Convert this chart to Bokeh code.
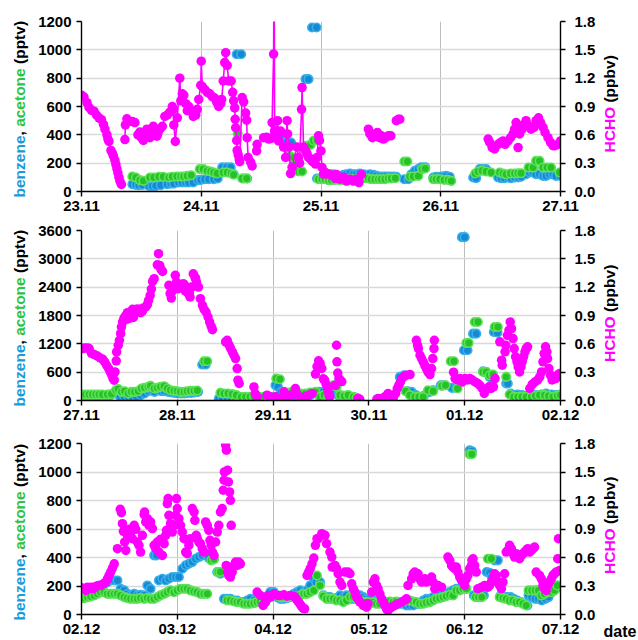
import math
import numpy as np
from bokeh.plotting import figure
from bokeh.layouts import column, row
from bokeh.models import Range1d, LinearAxis, FixedTicker, NumeralTickFormatter, Label
from bokeh.embed import file_html
from bokeh.resources import INLINE

GAP = float("nan")

# ---------------------------------------------------------------------------
# Time is given in hours since 23.11 00:00.
# benzene / acetone in pptv, HCHO in ppbv (right axis).
# ---------------------------------------------------------------------------
p1_days = ["23.11", "24.11", "25.11", "26.11", "27.11"]
p2_days = ["27.11", "28.11", "29.11", "30.11", "01.12", "02.12"]
p3_days = ["02.12", "03.12", "04.12", "05.12", "06.12", "07.12"]

p1_pptv_ticks = [0, 200, 400, 600, 800, 1000, 1200]
p2_pptv_ticks = [0, 600, 1200, 1800, 2400, 3000, 3600]
p3_pptv_ticks = [0, 200, 400, 600, 800, 1000, 1200]
hcho_ticks = [0.0, 0.3, 0.6, 0.9, 1.2, 1.5, 1.8]

# ---------------- panel 1: 23.11 - 27.11 ----------------
p1_hcho = [
    (0.0, 1.02), (0.5, 1.00), (1.1, 0.94), (1.5, 0.89), (2.0, 0.86), (2.5, 0.85),
    (3.0, 0.81), (3.5, 0.78), (4.0, 0.76), (4.4, 0.71), (4.7, 0.66), (5.1, 0.60),
    (5.3, 0.555), (5.5, 0.53), (5.9, 0.435), (6.2, 0.405), (6.4, 0.375), (6.7, 0.33),
    (6.9, 0.285), (7.1, 0.24), (7.3, 0.195), (7.5, 0.15), (7.7, 0.11), (8.0, 0.075),
    (8.3, GAP),
    (8.7, 0.55), (8.8, 0.705), (9.1, 0.77), (10.2, 0.74), (10.7, 0.73), (11.0, GAP),
    (11.3, 0.60), (11.7, 0.63), (12.0, 0.57), (12.4, 0.54), (12.7, 0.60), (13.1, 0.66),
    (13.3, 0.615), (13.7, 0.57), (14.0, 0.63), (14.4, 0.69), (14.7, 0.63), (15.1, 0.585),
    (15.3, 0.615), (15.7, 0.66), (16.2, 0.69), (16.7, 0.795), (17.2, 0.81), (17.7, 0.84),
    (18.2, 0.90), (18.4, 0.87), (18.5, 0.705), (18.8, 0.53), (19.2, 0.78), (19.7, 1.20),
    (19.9, 0.96), (20.2, 1.035), (20.5, 1.02), (20.9, 0.93), (21.2, 0.855), (21.5, 0.90),
    (21.9, 0.855), (22.4, 0.795), (22.9, 0.81), (23.2, 0.87), (23.5, 0.975), (23.9, 1.125),
    (24.0, 1.38), (24.2, 1.11), (24.7, 1.08), (25.2, 1.05), (25.7, 1.035), (26.2, 1.005),
    (26.7, 0.99), (27.1, 0.945), (27.5, 0.90), (27.9, 0.93), (28.1, 0.975), (28.4, 1.17),
    (28.7, 1.365), (28.9, 1.47), (29.2, 1.335), (29.5, 1.17), (30.0, 1.17), (30.3, 1.05),
    (30.5, 0.96), (30.7, 0.885), (30.8, 0.765), (30.9, 0.675), (31.1, 0.54), (31.2, 0.435),
    (31.4, 0.39), (31.6, 0.345), (31.7, 0.315), (32.2, 0.995), (32.5, 0.95), (32.9, 0.83),
    (33.1, 0.755), (33.2, 0.57), (33.4, 0.36), (33.9, 0.31), (34.2, 0.27), (34.6, GAP),
    (35.1, 0.43), (35.2, 0.50), (35.8, GAP),
    (36.5, 0.57), (37.1, 0.575), (37.5, 0.555), (37.9, 0.56), (38.2, 0.73), (38.5, 1.455),
    (38.6, 2.6), (38.7, 0.64), (38.9, 0.57), (39.3, 0.75), (39.5, 0.535), (39.9, 0.64),
    (40.5, 0.47), (40.9, 0.36), (41.2, 0.75), (41.3, 0.61), (41.6, 0.47), (41.9, 0.19),
    (42.2, 0.255), (43.2, 0.47), (43.5, 0.36), (43.7, 0.30), (44.1, 0.87), (44.2, 1.10),
    (44.5, 0.47), (44.9, 0.43), (45.2, 0.40), (45.5, 0.36), (45.9, 0.345), (46.2, 0.325),
    (46.5, 0.31), (46.9, 0.29), (47.2, 0.36), (47.5, 0.59), (47.7, 0.54), (48.0, 0.43),
    (48.2, 0.255), (48.5, 0.185), (48.9, 0.20), (49.3, 0.185), (49.8, 0.18), (50.4, 0.16),
    (50.9, 0.14), (51.1, 0.18), (51.8, 0.13), (52.5, 0.15), (53.1, 0.11), (53.8, 0.13),
    (54.5, 0.11), (55.1, 0.13), (55.6, 0.095), (56.1, 0.18), (56.8, GAP),
    (57.5, 0.66), (57.8, 0.61), (58.3, 0.57), (58.8, 0.61), (59.3, 0.625), (59.7, 0.57),
    (60.1, 0.59), (60.5, 0.555), (60.9, 0.57), (61.5, 0.59), (62.0, 0.59), (62.5, GAP),
    (63.1, 0.75), (63.5, 0.765), (63.8, 0.765), (70.0, GAP),
    (81.5, 0.555), (81.8, 0.52), (82.3, 0.465), (82.8, 0.45), (83.5, 0.50), (84.0, 0.52),
    (84.5, 0.535), (84.9, 0.50), (85.5, 0.535), (86.0, 0.57), (86.5, 0.61), (86.8, 0.66),
    (87.1, 0.73), (87.5, 0.465), (87.8, 0.61), (88.3, 0.66), (88.7, 0.71), (89.1, 0.75),
    (89.6, 0.695), (90.1, 0.66), (90.7, 0.68), (91.1, 0.75), (91.6, 0.78), (92.0, 0.73),
    (92.5, 0.68), (92.9, 0.625), (93.5, 0.57), (94.0, 0.52), (94.5, 0.485), (94.9, 0.485),
    (95.5, 0.50), (96.0, 0.535),
]
# the HCHO trace is joined by lines during the first two days
p1_hcho_line_end = 48.5

p1_benzene = [
    (10.2, 52), (10.9, 47), (11.5, 45), (12.2, 47), (13.5, 40), (14.2, 38), (14.9, 40),
    (15.9, 45), (17.2, 52), (17.9, 56), (18.5, 56), (19.5, 64), (20.2, 64), (20.9, 64),
    (21.5, 64), (22.4, 64), (23.3, 80), (23.9, 82), (24.7, 87), (25.5, 87), (26.5, 87),
    (27.3, 92), (28.2, 170), (29.1, 170), (29.9, 170), (30.5, 122), (31.1, 969), (32.0, 969),
    (32.5, 92), (33.2, 92), (39.5, 409), (40.4, 405), (41.1, 346), (42.0, 346), (42.7, 205),
    (43.3, 205), (44.9, 793), (45.5, 793), (46.2, 1158), (47.1, 1158), (47.2, 92), (47.9, 92),
    (48.5, 104), (49.1, 110), (49.8, 122), (50.5, 122), (51.1, 110), (51.8, 106), (52.5, 118),
    (53.1, 122), (53.8, 127), (54.5, 122), (55.1, 122), (55.8, 127), (56.5, 122), (57.1, 118),
    (57.8, 122), (58.5, 118), (59.1, 110), (59.8, 106), (60.5, 106), (61.1, 106), (61.8, 106),
    (62.5, 106), (63.1, 104), (64.7, 87), (65.5, 87), (66.1, 122), (66.8, 146), (67.5, 158),
    (68.1, 170), (68.9, 170), (70.5, 99), (71.1, 104), (71.8, 104), (72.5, 108), (73.1, 110),
    (73.8, 104), (78.5, 99), (79.1, 94), (79.8, 158), (80.5, 158), (81.1, 158), (83.5, 99),
    (84.1, 94), (84.8, 94), (85.5, 99), (86.1, 94), (86.8, 99), (87.5, 99), (88.1, 104),
    (89.1, 122), (89.8, 134), (90.5, 134), (91.1, 122), (91.8, 122), (92.5, 110), (93.1, 110),
    (93.8, 122), (94.5, 122), (95.1, 110), (96.0, 110),
]

p1_acetone = [
    (10.2, 106), (10.9, 99), (11.7, 80), (12.4, 75), (13.7, 99), (14.5, 99), (15.5, 104),
    (16.4, 104), (17.5, 99), (18.2, 104), (19.1, 106), (19.9, 106), (20.5, 106), (21.2, 110),
    (22.0, 115), (23.7, 158), (24.4, 158), (25.2, 146), (25.9, 141), (26.5, 134), (27.2, 127),
    (28.4, 134), (29.2, 134), (30.0, 127), (30.5, 118), (31.3, 409), (32.2, 92), (33.1, 92),
    (41.7, 252), (42.5, 240), (43.1, 193), (43.5, 141), (44.2, 141), (45.1, 322), (45.9, 329),
    (46.5, 358), (47.2, 362), (47.5, 87), (48.2, 87), (48.8, 87), (49.5, 80), (50.1, 80),
    (50.8, 82), (51.5, 82), (52.1, 82), (52.8, 82), (53.5, 87), (54.1, 87), (54.8, 87),
    (55.5, 92), (56.1, 94), (56.8, 94), (57.5, 92), (58.1, 87), (58.8, 87), (59.5, 87),
    (60.1, 87), (60.8, 87), (61.5, 92), (62.1, 92), (62.9, 94), (64.7, 212), (65.3, 212),
    (65.8, 104), (66.5, 106), (67.5, 110), (68.3, 158), (68.9, 162), (70.5, 87), (71.1, 87),
    (71.8, 87), (72.7, 82), (73.5, 82), (74.1, 75), (78.9, 127), (79.5, 141), (80.3, 146),
    (81.1, 141), (82.1, 134), (83.8, 134), (84.5, 127), (85.1, 122), (86.0, 127), (86.8, 127),
    (87.5, 129), (88.1, 129), (89.6, 169), (90.5, 169), (91.1, 216), (91.8, 216), (92.5, 169),
    (93.3, 169), (94.1, 169), (95.8, 134),
]

# ---------------- panel 2: 27.11 - 02.12 ----------------
p2_hcho = [
    (96.0, 0.55), (96.3, 0.55), (96.8, 0.557), (97.5, 0.557), (97.9, 0.55), (98.5, 0.50),
    (99.2, 0.486), (100.0, 0.47), (100.7, 0.45), (101.3, 0.437), (101.8, 0.41), (102.3, 0.373),
    (102.8, 0.338), (103.2, 0.303), (103.6, 0.268), (103.9, 0.233), (104.2, 0.215), (104.4, 0.303),
    (104.7, 0.42), (104.8, 0.514), (105.2, 0.585), (105.5, 0.638), (105.8, 0.708), (106.0, 0.778),
    (106.3, 0.83), (106.5, 0.85), (106.7, 0.874), (107.1, 0.90), (107.3, 0.86), (107.5, 0.93),
    (107.9, 0.90), (108.0, 0.87), (108.3, 0.937), (108.6, 0.92), (108.8, 0.965), (109.0, 0.88),
    (109.3, 0.937), (109.8, 0.955), (110.0, 0.97), (110.4, 0.937), (110.8, 0.93), (111.0, 0.965),
    (111.3, 0.95), (111.5, 0.98), (112.1, 0.99), (112.5, 1.015), (112.8, 1.06), (113.2, 1.113),
    (113.5, 1.18), (113.8, 1.26), (114.2, 1.29), (115.0, 1.437), (115.3, 1.554), (115.6, 1.43),
    (115.9, 1.388), (116.3, 1.367), (117.9, 1.219), (118.2, 1.131), (118.5, 1.085), (118.8, 1.16),
    (119.0, 1.201), (119.5, 1.325), (119.8, 1.254), (120.0, 1.23), (120.3, 1.184), (120.7, 1.219),
    (121.1, 1.201), (121.5, 1.237), (121.9, 1.219), (122.0, 1.16), (122.3, 1.177), (122.8, 1.131),
    (123.0, 1.14), (123.2, 1.096), (123.6, 1.201), (124.0, 1.342), (124.4, 1.307), (124.6, 1.29),
    (124.8, 1.254), (125.3, 1.201), (125.8, 1.078), (126.3, 1.008), (126.7, 0.965), (127.2, 0.937),
    (127.7, 0.884), (128.1, 0.831), (128.5, 0.786), (128.8, 0.75),
    (132.1, 0.62), (132.5, 0.638), (132.9, 0.592), (133.3, 0.557), (133.8, 0.514), (134.2, 0.479),
    (134.6, 0.444), (135.0, 0.338), (135.2, 0.215), (135.5, 0.18), (139.2, 0.144), (139.5, 0.074),
    (140.0, 0.039), (142.5, 0.056), (143.3, 0.039), (144.6, 0.039), (145.8, 0.021), (146.7, 0.092),
    (147.1, 0.028), (148.3, 0.056), (149.6, 0.127), (150.2, 0.056), (151.3, 0.028), (152.1, 0.039),
    (152.9, 0.056), (153.8, 0.074), (154.6, 0.28), (155.0, 0.36), (155.4, 0.42), (155.8, 0.39),
    (156.2, 0.34), (156.6, 0.23), (156.9, 0.215), (157.3, 0.17), (157.7, 0.11), (158.0, 0.06),
    (158.2, 0.04), (159.5, 0.16), (159.9, 0.585), (160.0, 0.41), (160.2, 0.29), (160.5, 0.233),
    (160.8, 0.215), (161.2, 0.20), (165.3, 0.021), (165.7, 0.014), (170.0, 0.014), (170.3, 0.021),
    (171.3, 0.021), (172.0, 0.039), (172.8, 0.074), (173.4, 0.039), (174.1, 0.028), (174.7, 0.074),
    (175.1, 0.127), (175.5, 0.162), (175.9, 0.197), (176.3, 0.233), (176.8, 0.254), (177.4, 0.268),
    (178.3, 0.275), (179.9, 0.638), (180.2, 0.585), (180.4, 0.55), (180.8, 0.479), (181.2, 0.444),
    (181.6, 0.409), (182.0, 0.373), (182.4, 0.338), (182.8, 0.303), (183.3, 0.275), (183.7, 0.338),
    (184.0, 0.444), (184.3, 0.55), (184.4, 0.638),
    (189.2, 0.30), (189.6, 0.232), (190.3, 0.217), (190.8, 0.232), (191.4, 0.197), (192.1, 0.232),
    (192.75, 0.217), (193.3, 0.232), (193.9, 0.217), (194.6, 0.197), (195.3, 0.18), (195.8, 0.16),
    (196.4, 0.127), (196.9, 0.074), (197.5, 0.12), (198.1, 0.145), (198.6, 0.127), (199.2, 0.145),
    (199.6, 0.232), (200.8, 0.621), (201.25, 0.427), (201.4, 0.374), (202.1, 0.515), (202.3, 0.585),
    (202.7, 0.69), (203.1, 0.744), (203.4, 0.832), (203.75, 0.762), (204.1, 0.656), (204.4, 0.55),
    (204.75, 0.462), (205.1, 0.409), (205.4, 0.356), (205.75, 0.303), (206.1, 0.356), (206.4, 0.409),
    (206.75, 0.462), (207.1, 0.515), (207.4, 0.55), (207.75, 0.568), (208.3, 0.127), (208.9, 0.17),
    (209.6, 0.197), (210.25, 0.217), (210.8, 0.25), (211.25, 0.303), (211.6, 0.409), (211.9, 0.497),
    (212.25, 0.568), (212.6, 0.515), (212.75, 0.444), (213.1, 0.338), (213.5, 0.268), (213.9, 0.217),
    (214.4, 0.25), (214.8, 0.232), (215.25, 0.268), (215.75, 0.285), (216.0, 0.268),
]

p2_benzene = [
    (96.25, 113), (97.1, 113), (97.9, 113), (98.75, 113), (99.6, 113), (100.4, 113),
    (101.25, 113), (102.3, 113), (103.3, 113), (104.6, 148), (105.7, 77), (106.7, 77),
    (107.7, 77), (108.75, 63), (109.8, 77), (110.8, 113), (111.8, 148), (112.7, 197),
    (113.5, 218), (114.3, 183), (115.2, 218), (116.0, 197), (116.8, 197), (117.7, 183),
    (118.5, 169), (119.3, 162), (120.2, 148), (121.0, 148), (121.8, 148), (122.7, 162),
    (123.5, 162), (124.3, 169), (125.2, 183), (126.25, 761), (127.1, 761),
    (130.4, 42), (131.25, 28), (132.5, 42), (133.5, 42), (134.6, 28), (135.8, 28),
    (137.5, 42), (139.2, 42), (140.8, 42), (142.5, 56), (143.75, 56), (144.6, 324),
    (145.2, 289), (146.0, 183), (147.1, 56), (148.3, 42), (149.6, 42), (150.8, 42),
    (152.1, 56), (153.3, 113), (154.6, 148), (155.4, 183), (156.6, 183), (157.4, 113),
    (158.7, 218), (159.5, 324), (160.3, 113), (161.3, 99), (162.4, 99), (163.7, 77),
    (164.7, 56), (175.75, 500), (176.8, 535), (177.7, 197), (178.7, 183), (179.7, 113),
    (180.75, 77), (181.8, 99), (183.25, 183), (184.1, 218), (186.0, 324), (186.8, 324),
    (188.8, 268), (189.9, 268), (191.3, 3459), (192.0, 3459), (191.8, 1064), (192.7, 1064),
    (194.1, 1416), (194.9, 1416), (196.6, 620), (197.4, 592), (198.25, 500), (198.8, 465),
    (199.3, 1451), (200.2, 1437), (202.4, 359), (202.8, 359), (203.5, 148), (204.5, 113),
    (205.3, 127), (206.3, 113), (207.4, 99), (208.7, 99), (209.9, 113), (211.2, 127),
    (212.4, 148), (213.7, 127), (214.9, 113), (216.0, 127),
]

p2_acetone = [
    (96.25, 127), (97.1, 127), (97.9, 127), (98.75, 127), (99.6, 127), (100.4, 127),
    (101.25, 127), (102.5, 127), (103.5, 134), (104.6, 218), (105.2, 240), (106.0, 183),
    (106.8, 197), (107.7, 148), (108.5, 183), (109.3, 183), (110.2, 197), (111.0, 254),
    (111.8, 268), (112.7, 289), (113.3, 310), (114.2, 254), (115.0, 268), (115.8, 289),
    (116.7, 303), (117.5, 254), (118.3, 218), (119.2, 204), (120.0, 197), (120.8, 183),
    (121.7, 183), (122.5, 197), (123.3, 204), (124.2, 204), (125.0, 211), (126.7, 831),
    (127.5, 831),
    (130.8, 162), (131.7, 148), (132.7, 148), (133.75, 134), (134.8, 113), (136.0, 77),
    (137.1, 77), (138.2, 77), (139.2, 77), (140.4, 77), (141.7, 77), (142.9, 77), (144.0, 77),
    (144.8, 465), (145.7, 451), (146.7, 183), (147.7, 169), (148.75, 183), (149.8, 169),
    (150.8, 148), (152.1, 148), (153.3, 169), (154.6, 183), (155.75, 77), (156.8, 113),
    (157.8, 77), (159.1, 324), (159.9, 289), (160.75, 113), (161.8, 99), (162.8, 113),
    (164.1, 77), (164.9, 56), (177.2, 197), (178.25, 113), (179.5, 77), (180.5, 77),
    (181.6, 77), (182.8, 218), (184.1, 197), (186.3, 310), (187.2, 324), (188.5, 831),
    (189.3, 831), (190.2, 254), (192.4, 1219), (193.0, 1219), (194.5, 1663), (195.3, 1663),
    (196.6, 606), (197.4, 606), (198.25, 535), (199.1, 550), (199.5, 1557), (200.3, 1557),
    (202.4, 500), (203.25, 127), (204.3, 77), (205.3, 77), (206.3, 77), (207.4, 77),
    (208.7, 77), (209.7, 99), (210.75, 113), (212.0, 113), (213.0, 99), (214.1, 77),
    (215.2, 99), (216.0, 113),
]

# ---------------- panel 3: 02.12 - 07.12 ----------------
p3_hcho = [
    (216.0, 0.281), (216.5, 0.271), (217.1, 0.253), (217.5, 0.288), (218.0, 0.271), (218.5, 0.288),
    (219.0, 0.271), (219.6, 0.295), (220.2, 0.306), (220.8, 0.306), (221.5, 0.323), (222.1, 0.341),
    (222.5, 0.376), (222.9, 0.411), (223.3, 0.447), (223.75, 0.489), (224.2, 0.534),
    (225.0, 0.693), (225.7, 1.108), (226.0, 1.072), (226.25, 0.956), (226.5, 0.876), (226.8, 0.763),
    (227.1, 0.675), (227.5, 0.833), (227.9, 0.897), (228.3, 0.861), (228.75, 0.798), (229.2, 0.939),
    (229.6, 0.897), (230.0, 0.763), (230.4, 0.728), (230.8, 0.657), (231.25, 0.833), (231.7, 1.051),
    (231.8, 1.079), (232.1, 0.974), (232.5, 1.009), (232.9, 0.939), (233.3, 0.974), (233.75, 0.904),
    (234.2, 0.728), (234.6, 0.693), (235.0, 0.763), (235.4, 0.657), (235.8, 0.791), (236.25, 0.622),
    (236.7, 0.745), (237.1, 0.833), (237.3, 0.886), (237.5, 1.167), (237.7, 1.22), (237.9, 1.044),
    (238.3, 0.956), (238.75, 0.868), (239.2, 0.939), (239.6, 1.044), (239.8, 1.22), (240.0, 1.115),
    (240.4, 1.009), (240.8, 0.939), (241.25, 0.868), (241.7, 0.798), (242.1, 0.657), (242.5, 0.64),
    (242.9, 0.728), (243.3, 0.798), (243.75, 1.115), (244.2, 1.079), (244.4, 0.991), (244.75, 0.833),
    (245.0, 0.798), (245.4, 0.763), (245.8, 0.745), (246.25, 0.693), (246.7, 0.657), (247.1, 0.974),
    (247.5, 0.939), (247.9, 0.886), (248.2, 0.781), (248.5, 0.728), (248.8, 0.657), (249.2, 0.622),
    (249.6, 0.763), (250.0, 0.868), (250.4, 0.939), (250.8, 1.079), (251.25, 1.115), (251.5, 1.308),
    (251.7, 1.413), (251.8, 1.501), (252.1, 1.783), (252.3, 1.73), (252.6, 1.519), (252.8, 1.396),
    (253.1, 1.29), (253.3, 1.202), (253.5, 0.939), (252.25, 0.517), (252.6, 0.447), (252.9, 0.411),
    (253.3, 0.394), (253.75, 0.447), (254.2, 0.517), (254.6, 0.552), (255.0, 0.517), (255.4, 0.552),
    (255.8, 0.534),
    (260.0, 0.236), (260.8, 0.2), (261.5, 0.095), (262.1, 0.13), (262.7, 0.2), (263.3, 0.183),
    (264.2, 0.218), (265.0, 0.2), (265.8, 0.2), (266.7, 0.207), (267.5, 0.193), (268.3, 0.2),
    (269.2, 0.193), (269.8, 0.165), (270.25, 0.137), (270.7, 0.113), (271.1, 0.088), (271.5, 0.067),
    (271.9, 0.06), (272.5, 0.411), (272.9, 0.447), (273.3, 0.482), (273.75, 0.534), (274.2, 0.594),
    (274.6, 0.728), (275.0, 0.798), (275.3, 0.798), (276.2, 0.851), (277.0, 0.833), (277.4, 0.745),
    (278.25, 0.657), (278.7, 0.605), (278.8, 0.499), (279.5, 0.517), (279.9, 0.482), (280.3, 0.429),
    (280.75, 0.341), (281.2, 0.306), (282.0, 0.447), (282.8, 0.447), (283.25, 0.429), (283.7, 0.323),
    (284.1, 0.271), (284.5, 0.236), (284.9, 0.183), (285.3, 0.165), (285.75, 0.13), (286.6, 0.095),
    (287.4, 0.077), (287.8, 0.113), (288.7, 0.236), (289.1, 0.341), (289.5, 0.376), (289.9, 0.306),
    (290.3, 0.271), (290.75, 0.218), (291.2, 0.165), (291.6, 0.13), (292.0, 0.095), (292.4, 0.06),
    (292.8, 0.042), (293.25, 0.067), (293.7, 0.077), (294.5, 0.095), (295.3, 0.113), (296.2, 0.13),
    (297.0, 0.148), (297.4, 0.165), (297.8, 0.306), (298.7, 0.376), (299.1, 0.429), (299.5, 0.447),
    (300.3, 0.429), (300.75, 0.376), (301.2, 0.341), (302.0, 0.376), (302.4, 0.341), (302.8, 0.359),
    (303.7, 0.394), (304.1, 0.341), (304.5, 0.271), (305.3, 0.306), (306.2, 0.288),
    (307.8, 0.605), (308.25, 0.57), (308.7, 0.517), (309.1, 0.499), (309.5, 0.482), (309.9, 0.499),
    (310.3, 0.447), (310.75, 0.394), (311.2, 0.359), (311.6, 0.341), (312.0, 0.306), (312.4, 0.376),
    (312.8, 0.411), (313.25, 0.482), (313.7, 0.517), (313.8, 0.57), (314.1, 0.587), (314.5, 0.517),
    (314.9, 0.447), (315.3, 0.271), (316.2, 0.288), (317.0, 0.306), (317.8, 0.288), (318.25, 0.306),
    (318.7, 0.341), (319.1, 0.376), (319.5, 0.429), (319.9, 0.411), (320.3, 0.341), (320.75, 0.306),
    (321.2, 0.271), (321.6, 0.341), (322.0, 0.429), (322.4, 0.657), (322.8, 0.675), (323.25, 0.728),
    (323.7, 0.693), (324.1, 0.64), (324.5, 0.605), (324.9, 0.64), (325.3, 0.605), (325.75, 0.587),
    (326.2, 0.622), (326.6, 0.64), (327.0, 0.657), (327.4, 0.675), (327.8, 0.693), (328.25, 0.657),
    (328.7, 0.675), (329.1, 0.693), (329.5, 0.71), (329.9, 0.447), (330.75, 0.411), (331.2, 0.376),
    (331.6, 0.306), (332.0, 0.271), (332.4, 0.253), (332.8, 0.306), (333.25, 0.341), (333.7, 0.376),
    (334.1, 0.411), (334.5, 0.429), (334.9, 0.447), (335.3, 0.587), (335.5, 0.798), (335.75, 0.464),
]

p3_benzene = [
    (216.0, 157), (216.7, 145), (217.5, 157), (218.3, 169), (219.2, 180), (220.0, 192),
    (220.8, 204), (221.7, 216), (222.5, 227), (223.3, 239), (224.2, 239), (225.0, 239),
    (225.8, 180), (226.7, 169), (227.5, 145), (228.3, 134), (229.2, 145), (230.0, 134),
    (230.8, 138), (231.7, 134), (232.5, 204), (233.3, 180), (234.2, 415), (234.8, 415),
    (235.4, 239), (236.25, 251), (237.1, 239), (237.9, 251), (238.75, 263), (239.6, 263),
    (240.4, 263), (241.25, 321), (242.1, 345), (242.9, 356), (243.75, 368), (244.6, 391),
    (245.4, 403), (246.25, 415), (247.1, 427), (247.9, 396), (248.75, 387), (250.0, 298),
    (250.8, 286), (251.7, 110), (252.5, 110), (253.3, 110), (254.2, 98), (255.0, 98),
    (255.8, 87), (256.7, 87), (257.5, 98), (258.3, 110), (259.2, 98), (260.0, 87),
    (260.8, 87), (261.7, 110), (262.5, 122), (263.3, 157), (264.2, 157), (265.0, 122),
    (265.8, 110), (266.7, 110), (267.5, 115), (268.3, 122), (269.2, 145), (270.0, 157),
    (270.8, 169), (271.7, 157), (272.5, 169), (273.3, 204), (274.2, 251), (274.8, 227),
    (275.75, 227), (276.6, 134), (277.4, 122), (278.25, 122), (279.1, 110), (279.9, 115),
    (280.75, 134), (281.6, 122), (282.4, 134), (283.25, 110), (284.1, 110), (284.9, 122),
    (285.75, 134), (286.6, 122), (287.4, 110), (288.25, 110), (289.1, 110), (289.9, 98),
    (290.75, 98), (291.6, 87), (292.4, 87), (293.25, 75), (294.1, 75), (294.9, 75),
    (295.75, 75), (296.6, 75), (297.4, 63), (298.25, 63), (299.1, 63), (299.9, 75),
    (300.75, 75), (301.6, 98), (302.4, 110), (303.25, 110), (304.1, 122), (304.9, 122),
    (305.75, 134), (306.6, 134), (307.4, 145), (308.25, 157), (309.1, 169), (309.9, 180),
    (310.75, 180), (311.6, 180), (312.4, 180), (313.25, 1153), (313.8, 1146), (314.3, 134),
    (315.2, 122), (316.0, 122), (316.8, 134), (317.5, 298), (318.25, 293), (318.8, 263),
    (319.5, 380), (320.3, 380), (321.0, 134), (321.8, 122), (322.7, 122), (323.5, 122),
    (324.3, 110), (325.2, 98), (326.0, 87), (326.8, 75), (327.7, 63), (328.0, 134),
    (328.8, 122), (329.7, 110), (330.5, 110), (331.3, 98), (332.2, 110), (333.0, 122),
    (333.8, 157), (334.5, 180), (335.2, 204), (335.75, 192),
]

p3_acetone = [
    (216.0, 122), (216.7, 115), (217.5, 122), (218.3, 127), (219.2, 134), (220.0, 145),
    (220.8, 157), (221.7, 157), (222.5, 145), (223.3, 145), (224.2, 145), (225.0, 145),
    (225.8, 134), (226.7, 122), (227.5, 115), (228.3, 110), (229.2, 110), (230.0, 110),
    (230.8, 115), (231.7, 110), (232.5, 115), (233.3, 110), (234.2, 110), (235.0, 122),
    (235.8, 134), (236.7, 145), (237.5, 157), (238.3, 169), (239.2, 157), (240.0, 169),
    (240.8, 180), (241.7, 180), (242.5, 180), (243.3, 169), (244.2, 162), (245.0, 157),
    (245.8, 145), (246.7, 145), (247.5, 145), (248.5, 380), (249.2, 387), (250.2, 298),
    (250.8, 298), (252.5, 98), (253.3, 98), (254.2, 91), (255.0, 87), (255.8, 87),
    (256.7, 75), (257.5, 75), (258.3, 75), (259.2, 80), (260.0, 87), (260.8, 91),
    (261.7, 98), (262.5, 110), (263.3, 122), (264.2, 134), (265.0, 134), (265.8, 122),
    (266.7, 122), (267.5, 122), (268.3, 127), (269.2, 127), (270.0, 122), (270.8, 134),
    (271.7, 145), (272.5, 145), (273.3, 157), (274.2, 169), (275.0, 274), (275.75, 204),
    (276.6, 129), (277.4, 110), (278.25, 110), (279.1, 110), (279.9, 98), (280.75, 98),
    (281.6, 87), (282.4, 98), (283.25, 122), (284.1, 122), (284.9, 110), (285.75, 98),
    (286.6, 87), (287.4, 87), (288.25, 75), (289.1, 87), (289.9, 75), (290.75, 75),
    (291.6, 87), (292.4, 87), (293.25, 91), (294.1, 87), (294.9, 91), (295.75, 87),
    (296.6, 91), (297.4, 98), (298.25, 98), (299.1, 91), (299.9, 87), (300.75, 75),
    (301.6, 75), (302.4, 82), (303.25, 87), (304.1, 98), (304.9, 110), (305.75, 115),
    (306.6, 122), (307.4, 129), (308.25, 138), (309.1, 134), (309.9, 169), (310.75, 169),
    (311.6, 180), (312.4, 180), (313.25, 1125), (313.8, 1125), (314.7, 122), (315.5, 122),
    (316.3, 122), (317.8, 391), (318.7, 391), (319.1, 239), (319.7, 263), (320.75, 122),
    (321.6, 115), (322.4, 110), (323.25, 98), (324.1, 98), (324.9, 87), (325.75, 87),
    (326.6, 75), (327.4, 63), (328.0, 169), (328.8, 169), (329.7, 169), (330.5, 169),
    (331.2, 134), (332.0, 145), (332.8, 157), (333.7, 157), (334.5, 169), (335.2, 204),
]

# ---------------------------------------------------------------------------
BENZ_FILL, BENZ_EDGE = "#1789d2", "#38b0ea"
ACET_FILL, ACET_EDGE = "#24c224", "#5fe25a"
HCHO_COL = "#ff00ff"
BENZ_TXT, ACET_TXT = "#1b9ad8", "#2bc443"
FONT = "Liberation Sans"
TICK_PX = "15px"
LABEL_PX = 15.5

TOTAL_H = 640
LEFT_W, RIGHT_W = 30, 40          # side figures holding the axis titles
MAIN_W = 638 - LEFT_W - RIGHT_W

# panel heights and top / bottom borders (frame = height - top - bottom)
PANEL_H = [220, 209, 211]
PANEL_TOP = [21, 10, 14]
PANEL_BOTTOM = [29, 29, 26]
RIGHT_TITLE_RISE = [39, 38.5, 40.5]   # start of the HCHO title above each frame bottom

# advance widths (1/1000 em) of the bold sans face used for the stacked axis titles
ADV = {"b": 611, "e": 556, "n": 611, "z": 500, ",": 278, " ": 278, "a": 556, "c": 556,
       "t": 333, "o": 611, "(": 333, ")": 333, "p": 611, "v": 556, "H": 722, "C": 722,
       "O": 778}


def advance(s):
    return sum(ADV[ch] for ch in s) * LABEL_PX / 1000.0


def stacked_title(p, x, y0, parts):
    """Vertical multi-coloured title built from consecutive pieces (reading upwards)."""
    y = y0
    for text, color, step in parts:
        p.add_layout(Label(x=x, y=y, x_units="screen", y_units="screen", text=text,
                           angle=math.pi / 2, text_align="left", text_baseline="middle",
                           text_color=color, text_font=FONT, text_font_style="bold",
                           text_font_size=f"{LABEL_PX}px"))
        y += advance(step)


def side_figure(width):
    """Full-height blank figure whose frame is the whole canvas (pixel coordinates)."""
    s = figure(width=width, height=TOTAL_H, x_range=Range1d(0, width),
               y_range=Range1d(0, TOTAL_H), output_backend="svg", toolbar_location=None,
               x_axis_type=None, y_axis_type=None, min_border=0)
    s.min_border_left = s.min_border_right = s.min_border_top = s.min_border_bottom = 0
    s.title.visible = False
    s.outline_line_color = None
    s.background_fill_color = "white"
    s.border_fill_color = "white"
    return s


def style_axis(ax, standoff):
    ax.axis_line_color = "black"
    ax.axis_line_width = 1.4
    ax.major_tick_line_color = "black"
    ax.major_tick_line_width = 1.4
    ax.major_tick_out = 5
    ax.major_tick_in = 0
    ax.minor_tick_line_color = None
    ax.major_label_standoff = standoff
    ax.major_label_text_font = FONT
    ax.major_label_text_font_style = "bold"
    ax.major_label_text_font_size = TICK_PX
    ax.major_label_text_color = "black"


def split(pairs):
    arr = np.array(pairs, dtype=float)
    return arr[:, 0], arr[:, 1]


def panel(h0, days, pptv_ticks, benz, acet, hcho, height, top, bottom, line_end=None):
    h1 = h0 + 24 * (len(days) - 1)
    p = figure(width=MAIN_W, height=height, x_range=Range1d(h0, h1),
               y_range=Range1d(pptv_ticks[0], pptv_ticks[-1]),
               output_backend="svg", toolbar_location=None,
               min_border_left=81 - LEFT_W, min_border_right=76 - RIGHT_W,
               min_border_top=top, min_border_bottom=bottom)
    p.outline_line_color = None
    p.background_fill_color = "white"
    p.border_fill_color = "white"
    p.extra_y_ranges = {"hcho": Range1d(hcho_ticks[0], hcho_ticks[-1])}

    day_ticks = [h0 + 24 * i for i in range(len(days))]
    xa = p.xaxis[0]
    xa.ticker = FixedTicker(ticks=day_ticks)
    xa.major_label_overrides = {t: lab for t, lab in zip(day_ticks, days)}
    style_axis(xa, 4)

    ya = p.yaxis[0]
    ya.ticker = FixedTicker(ticks=pptv_ticks)
    style_axis(ya, 5)

    ra = LinearAxis(y_range_name="hcho", ticker=FixedTicker(ticks=hcho_ticks),
                    formatter=NumeralTickFormatter(format="0.0"))
    style_axis(ra, 9)
    p.add_layout(ra, "right")

    p.xgrid.grid_line_color = "#bdbdbd"
    p.xgrid.grid_line_width = 1
    p.ygrid.grid_line_color = "#d9d9d9"
    p.ygrid.grid_line_width = 1.5

    bx, by = split(benz)
    ax_, ay = split(acet)
    hx, hy = split(hcho)

    p.scatter(bx, by, size=8.5, fill_color=BENZ_FILL, line_color=BENZ_EDGE, line_width=1.6)
    p.scatter(ax_, ay, size=8.5, fill_color=ACET_FILL, line_color=ACET_EDGE, line_width=1.6)
    if line_end is not None:
        m = hx <= line_end
        p.line(hx[m], hy[m], y_range_name="hcho", line_color=HCHO_COL, line_width=1.6)
    p.scatter(hx, hy, size=9.5, fill_color=HCHO_COL, line_color=None, y_range_name="hcho")
    return p


p1 = panel(0, p1_days, p1_pptv_ticks, p1_benzene, p1_acetone, p1_hcho,
           PANEL_H[0], PANEL_TOP[0], PANEL_BOTTOM[0], line_end=p1_hcho_line_end)
p2 = panel(96, p2_days, p2_pptv_ticks, p2_benzene, p2_acetone, p2_hcho,
           PANEL_H[1], PANEL_TOP[1], PANEL_BOTTOM[1])
p3 = panel(216, p3_days, p3_pptv_ticks, p3_benzene, p3_acetone, p3_hcho,
           PANEL_H[2], PANEL_TOP[2], PANEL_BOTTOM[2])

left = side_figure(LEFT_W)
right = side_figure(RIGHT_W)
for i in range(3):
    # height of each panel's frame bottom above the page bottom
    frame_bottom = TOTAL_H - sum(PANEL_H[:i + 1]) + PANEL_BOTTOM[i]
    stacked_title(left, 18.5, frame_bottom - 6,
                  [("benzene", BENZ_TXT, "benzene"), (",", "black", ", "),
                   ("acetone", ACET_TXT, "acetone "), ("(pptv)", "black", "(pptv)")])
    stacked_title(right, 11, frame_bottom + RIGHT_TITLE_RISE[i],
                  [("HCHO", HCHO_COL, "HCHO "), ("(ppbv)", "black", "(ppbv)")])

right.add_layout(Label(x=5, y=0.5, x_units="screen", y_units="screen", text="date",
                       text_align="left", text_baseline="bottom", text_color="black",
                       text_font=FONT, text_font_style="bold", text_font_size="16px"))

layout = row(left, column(p1, p2, p3, spacing=0), right, spacing=0)
open("out.html", "w").write(file_html(layout, INLINE))
